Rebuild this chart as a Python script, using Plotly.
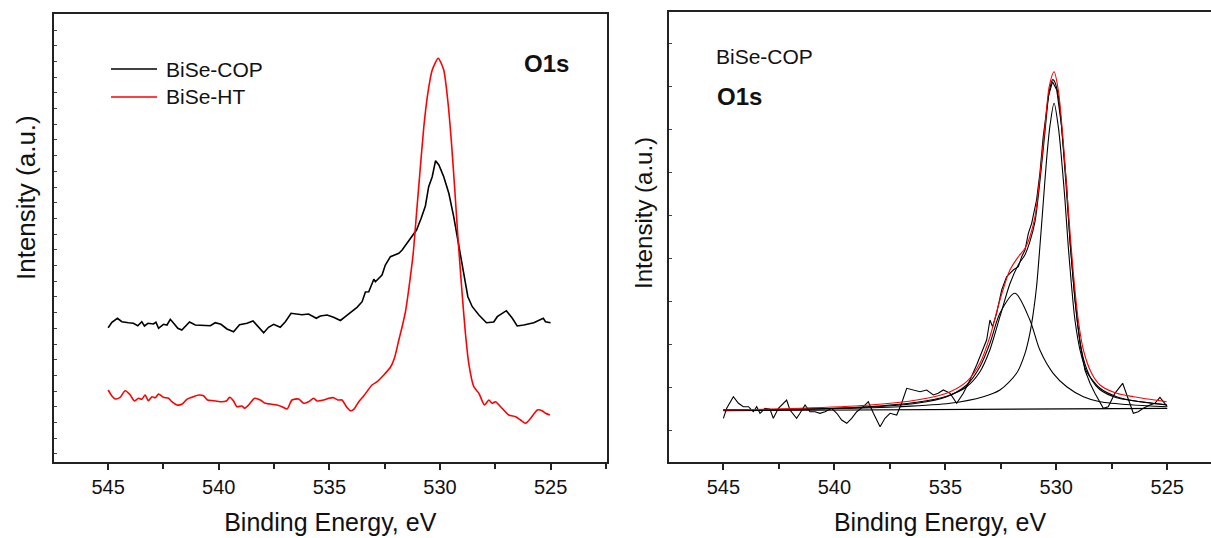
import plotly.graph_objects as go

W, H = 1211, 538
FONT = "Arial, Liberation Sans, Helvetica, sans-serif"

# ---------------- Left panel data (binding energy eV, intensity a.u.) ----------------
cop_x = [545.00, 544.83, 544.58, 544.38, 544.08, 543.86, 543.66, 543.48, 543.36, 543.20,
         542.95, 542.84, 542.72, 542.50, 542.34, 542.19, 542.01, 541.85, 541.67, 541.52,
         541.32, 541.06, 540.84, 540.61, 540.38, 540.16, 539.90, 539.63, 539.33, 539.06,
         538.72, 538.45, 538.20, 537.97, 537.75, 537.52, 537.22, 536.99, 536.73, 536.46,
         536.24, 535.94, 535.59, 535.41, 535.10, 534.81, 534.50, 534.28, 533.97, 533.75,
         533.52, 533.37, 533.22, 533.07, 532.99, 532.92, 532.62, 532.47, 532.24, 531.86,
         531.71, 531.33, 531.06, 530.85, 530.66, 530.51, 530.35, 530.20, 530.05, 529.83,
         529.60, 529.38, 529.15, 528.92, 528.74, 528.54, 528.24, 527.90, 527.57, 527.41,
         527.00, 526.73, 526.51, 526.21, 525.76, 525.33, 525.23, 525.00]
cop_y = [133.3, 138.7, 142.7, 139.3, 138.3, 137.7, 135.3, 139.3, 135.0, 137.7,
         137.0, 138.7, 132.7, 136.7, 136.0, 141.7, 137.0, 132.7, 131.0, 134.3,
         139.0, 136.0, 135.7, 135.0, 135.3, 138.3, 136.7, 132.0, 129.3, 136.3,
         137.7, 140.0, 134.3, 128.3, 133.7, 136.7, 133.7, 139.3, 147.7, 147.0,
         146.3, 147.0, 142.7, 145.0, 146.0, 143.7, 140.5, 144.3, 150.3, 153.7,
         159.3, 169.0, 169.3, 177.7, 181.7, 179.3, 186.0, 196.0, 204.3, 207.7,
         211.0, 222.7, 231.0, 242.7, 255.0, 274.3, 284.3, 300.3, 296.0, 284.3,
         267.7, 244.3, 214.3, 187.7, 164.3, 154.3, 146.0, 138.3, 139.0, 144.3,
         150.3, 142.7, 135.0, 136.0, 138.3, 142.7, 139.3, 138.3]

ht_x = [545.00, 544.83, 544.68, 544.46, 544.23, 544.00, 543.82, 543.63, 543.48, 543.33,
        543.18, 543.02, 542.87, 542.72, 542.50, 542.27, 542.12, 541.89, 541.67, 541.44,
        541.14, 540.91, 540.69, 540.51, 540.24, 539.93, 539.66, 539.51, 539.33, 539.18,
        538.95, 538.83, 538.65, 538.38, 538.12, 537.90, 537.67, 537.37, 537.14, 536.91,
        536.69, 536.39, 536.16, 535.94, 535.71, 535.56, 535.26, 535.03, 534.81, 534.62,
        534.43, 534.23, 534.05, 533.90, 533.67, 533.45, 533.07, 532.84, 532.54, 532.24,
        532.06, 531.86, 531.71, 531.56, 531.41, 531.21, 531.06, 530.91, 530.73, 530.55,
        530.35, 530.08, 529.83, 529.65, 529.49, 529.34, 529.18, 529.00, 528.85, 528.70,
        528.47, 528.24, 527.99, 527.79, 527.64, 527.49, 527.26, 526.89, 526.58, 526.36,
        526.13, 525.90, 525.60, 525.38, 525.23, 525.03]
ht_y = [71.0, 65.0, 62.0, 63.7, 70.3, 66.0, 60.0, 62.7, 61.7, 66.0,
        60.3, 64.3, 63.3, 67.0, 63.7, 62.7, 59.3, 56.0, 56.7, 61.7,
        64.3, 66.0, 65.3, 61.0, 60.3, 59.3, 60.0, 63.7, 60.0, 54.3,
        55.0, 52.7, 56.0, 62.7, 61.0, 57.7, 57.0, 56.0, 54.3, 52.0,
        61.0, 62.0, 57.7, 59.3, 62.7, 60.0, 61.0, 62.7, 63.3, 61.0,
        61.0, 54.3, 50.3, 51.7, 59.3, 65.0, 76.0, 79.3, 86.0, 93.7,
        102.7, 121.0, 134.3, 149.3, 172.0, 207.7, 247.7, 287.7, 334.3, 367.7,
        391.0, 402.7, 391.0, 361.0, 321.0, 274.3, 221.0, 167.7, 127.7, 97.7,
        74.3, 67.7, 56.0, 61.0, 57.7, 59.3, 54.3, 46.0, 44.3, 41.0,
        37.7, 42.7, 51.0, 50.3, 47.7, 46.0]

# ---------------- Right panel data ----------------
raw_x = [545.00, 544.85, 544.55, 544.32, 544.10, 543.87, 543.65, 543.50, 543.35, 543.12,
         542.90, 542.75, 542.52, 542.30, 542.15, 542.00, 541.70, 541.55, 541.32, 541.10,
         540.87, 540.65, 540.42, 540.12, 539.89, 539.67, 539.44, 539.22, 538.99, 538.69,
         538.47, 538.24, 537.94, 537.72, 537.49, 537.19, 536.97, 536.74, 536.44, 536.14,
         535.84, 535.54, 535.32, 535.09, 534.79, 534.49, 534.19, 533.89, 533.59, 533.36,
         533.14, 532.99, 532.87, 532.69, 532.46, 532.24, 531.94, 531.71, 531.56, 531.41,
         531.26, 531.11, 530.89, 530.74, 530.59, 530.36, 530.17, 529.98, 529.76, 529.53,
         529.38, 529.16, 528.93, 528.71, 528.48, 528.26, 528.03, 527.88, 527.66, 527.36,
         527.01, 526.76, 526.53, 526.31, 526.08, 525.78, 525.56, 525.33, 525.18, 525.00]
raw_y = [43.4, 53.4, 65.0, 58.4, 55.0, 55.0, 50.0, 55.0, 48.4, 53.4,
         52.4, 43.4, 53.4, 58.4, 61.7, 51.7, 43.4, 48.4, 56.7, 50.0,
         50.0, 48.4, 50.0, 53.4, 48.4, 41.7, 38.4, 43.4, 50.0, 55.0,
         60.0, 48.4, 35.0, 43.4, 48.4, 46.7, 58.4, 73.4, 71.7, 70.0,
         71.7, 66.7, 68.4, 71.7, 68.4, 58.4, 68.4, 81.7, 96.7, 110.0,
         121.7, 141.7, 135.0, 148.4, 171.7, 185.0, 191.7, 195.0, 205.0, 211.7,
         228.4, 238.4, 261.7, 288.4, 325.0, 365.0, 380.0, 371.7, 335.0, 275.0,
         218.4, 161.7, 118.4, 91.7, 78.4, 68.4, 58.4, 53.4, 55.0, 68.4,
         78.4, 61.7, 48.4, 50.0, 53.4, 56.7, 58.4, 64.4, 60.1, 55.0]

comp1_x = [545.00, 540.05, 537.04, 534.79, 533.29, 532.54, 531.79, 531.41, 531.19, 531.04,
           530.89, 530.74, 530.59, 530.44, 530.29, 530.10, 529.91, 529.76, 529.61, 529.46,
           529.31, 529.16, 528.93, 528.63, 528.03, 527.28, 526.53, 525.03]
comp1_y = [51.7, 53.0, 55.0, 58.4, 65.0, 71.7, 88.4, 108.4, 128.4, 148.4,
           175.0, 215.0, 258.4, 301.7, 335.0, 358.4, 335.0, 301.7, 261.7, 215.0,
           175.0, 141.7, 111.7, 90.0, 73.4, 65.0, 61.0, 56.7]

comp2_x = [545.00, 541.55, 538.54, 536.29, 534.94, 534.04, 533.44, 532.99, 532.54, 531.86,
           531.19, 530.74, 530.14, 529.53, 528.78, 528.03, 526.53, 525.03]
comp2_y = [51.7, 52.4, 54.4, 58.4, 65.0, 76.7, 95.0, 118.4, 148.4, 168.4,
           141.7, 111.7, 88.4, 75.0, 65.0, 60.0, 56.7, 55.0]

env_x = [545.00, 541.55, 538.54, 536.29, 534.94, 534.04, 533.44, 532.99, 532.54, 532.09,
         531.71, 531.41, 531.19, 530.96, 530.74, 530.51, 530.32, 530.17, 530.10, 529.91,
         529.68, 529.46, 529.23, 529.01, 528.78, 528.41, 528.03, 527.28, 526.53, 525.03]
env_y = [51.7, 52.5, 55.0, 59.5, 65.5, 75.0, 90.0, 112.0, 145.0, 178.0,
         197.0, 207.0, 220.0, 240.0, 280.0, 330.0, 370.0, 382.0, 381.0, 366.0,
         312.0, 245.0, 180.0, 132.0, 103.0, 82.0, 72.0, 64.0, 61.0, 57.0]

fit_x = [545.00, 541.55, 538.54, 536.29, 534.94, 534.04, 533.44, 532.99, 532.54, 532.09,
         531.71, 531.41, 531.19, 530.96, 530.74, 530.51, 530.32, 530.10, 529.91, 529.68,
         529.46, 529.23, 529.01, 528.78, 528.41, 528.03, 527.28, 526.53, 525.03]
fit_y = [51.7, 53.4, 56.4, 61.7, 68.4, 80.0, 98.4, 125.0, 161.7, 191.7,
         205.0, 213.4, 225.0, 245.0, 285.0, 335.0, 375.0, 390.0, 371.7, 318.4,
         251.7, 188.4, 141.7, 111.7, 88.4, 76.7, 68.4, 65.0, 60.0]

base_x = [545.00, 525.00]
base_y = [51.0, 53.4]

legend_names = ["BiSe-COP", "BiSe-HT"]


def px_x(p):
    return p / W


def px_y(p):
    return 1 - p / H


fig = go.Figure()
fig.add_trace(go.Scatter(x=cop_x, y=cop_y, mode="lines", name=legend_names[0],
                         line=dict(color="black", width=1.6), xaxis="x", yaxis="y",
                         showlegend=False))
fig.add_trace(go.Scatter(x=ht_x, y=ht_y, mode="lines", name=legend_names[1],
                         line=dict(color="#ff0000", width=1.6, shape="spline", smoothing=0.6),
                         xaxis="x", yaxis="y", showlegend=False))

fig.add_trace(go.Scatter(x=base_x, y=base_y, mode="lines", name="Baseline",
                         line=dict(color="black", width=1.2), xaxis="x2", yaxis="y2",
                         showlegend=False))
fig.add_trace(go.Scatter(x=comp2_x, y=comp2_y, mode="lines", name="Peak 2",
                         line=dict(color="black", width=1.1, shape="spline", smoothing=0.8),
                         xaxis="x2", yaxis="y2", showlegend=False))
fig.add_trace(go.Scatter(x=comp1_x, y=comp1_y, mode="lines", name="Peak 1",
                         line=dict(color="black", width=1.1, shape="spline", smoothing=0.8),
                         xaxis="x2", yaxis="y2", showlegend=False))
fig.add_trace(go.Scatter(x=env_x, y=env_y, mode="lines", name="Envelope",
                         line=dict(color="black", width=1.1, shape="spline", smoothing=0.8),
                         xaxis="x2", yaxis="y2", showlegend=False))
fig.add_trace(go.Scatter(x=raw_x, y=raw_y, mode="lines", name="BiSe-COP data",
                         line=dict(color="black", width=1.1), xaxis="x2", yaxis="y2",
                         showlegend=False))
fig.add_trace(go.Scatter(x=fit_x, y=fit_y, mode="lines", name="Fit",
                         line=dict(color="#ff0000", width=1.1, shape="spline", smoothing=0.8),
                         xaxis="x2", yaxis="y2", showlegend=False))

xcommon = dict(
    tickmode="linear", tick0=525, dtick=5,
    ticks="outside", ticklen=6, tickwidth=1.5, tickcolor="#222",
    minor=dict(dtick=2.5, tick0=522.5, ticks="outside", ticklen=5, tickwidth=1.5, tickcolor="#222"),
    showline=True, linecolor="#222", linewidth=2, mirror=True,
    showgrid=False, zeroline=False,
    tickfont=dict(family=FONT, size=20, color="#111"),
    title=dict(text="Binding Energy, eV", font=dict(family=FONT, size=25, color="#111"), standoff=17),
)

fig.update_layout(
    width=W, height=H,
    margin=dict(l=0, r=0, t=0, b=0),
    paper_bgcolor="white", plot_bgcolor="white",
    showlegend=False,
    xaxis=dict(domain=[px_x(53.5), px_x(607)], range=[547.47, 522.45], anchor="y", **xcommon),
    yaxis=dict(domain=[px_y(461.7), px_y(14)], range=[-0.7, 447], anchor="x",
               showline=True, linecolor="#222", linewidth=2, mirror=True,
               showgrid=False, zeroline=False, showticklabels=False,
               tickmode="linear", ticks="inside", ticklen=3, tickcolor="#444",
               tick0=7.1, dtick=15.7),
    xaxis2=dict(domain=[px_x(669), 1.0], range=[547.45, 523.03], anchor="y2", **xcommon),
    yaxis2=dict(domain=[px_y(461.7), px_y(11.7)], range=[0, 450], anchor="x2",
                showline=True, linecolor="#222", linewidth=2.2, mirror=False,
                showgrid=False, zeroline=False, showticklabels=False,
                tickmode="linear", ticks="inside", ticklen=3, tickcolor="#444",
                tick0=31.4, dtick=43),
)

# Y-axis titles
for cx, cy, fs in [(26, 198, 26), (643, 213, 24)]:
    fig.add_annotation(text="Intensity (a.u.)", x=px_x(cx), y=px_y(cy), xref="paper", yref="paper",
                       textangle=-90, showarrow=False, xanchor="center", yanchor="middle",
                       font=dict(family=FONT, size=fs, color="#111"))

# Left legend (manual)
legend_colors = ["black", "#ff0000"]
for name, col, ly in zip(legend_names, legend_colors, [69, 97]):
    fig.add_shape(type="line", xref="paper", yref="paper",
                  x0=px_x(111), x1=px_x(157), y0=px_y(ly), y1=px_y(ly),
                  line=dict(color=col, width=1.6))
    fig.add_annotation(text=name, x=px_x(164), y=px_y(ly), xref="paper", yref="paper",
                       showarrow=False, xanchor="left", yanchor="middle",
                       font=dict(family=FONT, size=21, color="#111"))

fig.add_annotation(text="<b>O1s</b>", x=px_x(522), y=px_y(64), xref="paper", yref="paper",
                   showarrow=False, xanchor="left", yanchor="middle",
                   font=dict(family=FONT, size=24, color="#111"))
fig.add_annotation(text="BiSe-COP", x=px_x(714), y=px_y(56), xref="paper", yref="paper",
                   showarrow=False, xanchor="left", yanchor="middle",
                   font=dict(family=FONT, size=21, color="#111"))
fig.add_annotation(text="<b>O1s</b>", x=px_x(715), y=px_y(97), xref="paper", yref="paper",
                   showarrow=False, xanchor="left", yanchor="middle",
                   font=dict(family=FONT, size=24, color="#111"))

fig.write_html("out.html")
